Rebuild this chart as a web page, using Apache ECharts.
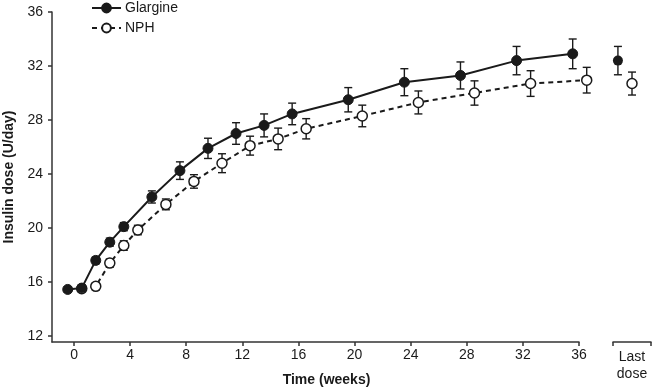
<!DOCTYPE html>
<html>
<head>
<meta charset="utf-8">
<script src="https://cdn.jsdelivr.net/npm/echarts@6/dist/echarts.min.js"></script>
<style>html,body{margin:0;padding:0;background:#fff}#c{width:653px;height:389px}</style>
</head>
<body>
<div id="c"></div>
<script>
// ---- data ----
var weeks = [0, 1, 2, 3, 4, 6, 8, 10, 12, 14, 16, 20, 24, 28, 32, 36];
var glargine = [15.45, 15.55, 17.6, 18.95, 20.1, 22.3, 24.25, 25.9, 27.0, 27.6, 28.45, 29.5, 30.8, 31.3, 32.4, 32.9];
var glargineErr = [0.2, 0.25, 0.25, 0.3, 0.3, 0.45, 0.65, 0.75, 0.8, 0.85, 0.8, 0.9, 1.0, 1.0, 1.05, 1.1];
var nph = [15.5, 15.68, 17.4, 18.7, 19.85, 21.75, 23.45, 24.8, 26.1, 26.6, 27.35, 28.3, 29.3, 30.0, 30.7, 30.95];
var nphErr = [0.2, 0.25, 0.3, 0.35, 0.35, 0.4, 0.5, 0.7, 0.7, 0.8, 0.75, 0.8, 0.85, 0.9, 0.95, 0.95];
var lastGlargine = 32.4, lastGlargineErr = 1.05;
var lastNph = 30.7, lastNphErr = 0.85;
var xTicks = [0, 4, 8, 12, 16, 20, 24, 28, 32, 36];
var yTicks = [12, 16, 20, 24, 28, 32, 36];
var seriesNames = ['Glargine', 'NPH'];

// ---- layout helpers ----
var OFF_G = -0.45, OFF_N = 0.55;
var FONT = '"Liberation Sans", Arial, sans-serif';
var INK = '#1a1a1a';

function pts(vals, off) { return weeks.map(function (w, i) { return [w + off, vals[i]]; }); }
function errs(vals, e, off) { return weeks.map(function (w, i) { return [w + off, vals[i] - e[i], vals[i] + e[i]]; }); }

function errRender(params, api) {
  var x = api.value(0), lo = api.value(1), hi = api.value(2);
  var a = api.coord([x, hi]), b = api.coord([x, lo]);
  var cw = 4;
  var st = { stroke: INK, lineWidth: 1.4 };
  return { type: 'group', children: [
    { type: 'line', shape: { x1: a[0], y1: a[1], x2: b[0], y2: b[1] }, style: st },
    { type: 'line', shape: { x1: a[0] - cw, y1: a[1], x2: a[0] + cw, y2: a[1] }, style: st },
    { type: 'line', shape: { x1: b[0] - cw, y1: b[1], x2: b[0] + cw, y2: b[1] }, style: st }
  ]};
}

var axisLineStyle = { color: '#333', width: 1.5 };
var chart = echarts.init(document.getElementById('c'));
chart.setOption({
  animation: false,
  textStyle: { fontFamily: FONT },
  legend: {
    orient: 'vertical', left: 91, top: 1, padding: 0, itemGap: 6,
    itemWidth: 29, itemHeight: 11,
    data: seriesNames,
    textStyle: { fontFamily: FONT, fontSize: 14, color: INK, padding: [1, 0, 0, -1] }
  },
  grid: [
    { left: 52, right: 74, top: 12, bottom: 47, containLabel: false, outerBoundsMode: 'none' },
    { left: 613, right: 2, top: 12, bottom: 47, containLabel: false, outerBoundsMode: 'none' }
  ],
  xAxis: [
    {
      type: 'value', gridIndex: 0, min: -1.57, max: 36,
      splitLine: { show: false },
      axisLine: { onZero: false, lineStyle: axisLineStyle },
      axisTick: { customValues: xTicks, length: 4, lineStyle: axisLineStyle },
      axisLabel: { customValues: xTicks, margin: 6, fontSize: 14, color: INK, fontFamily: FONT },
      name: 'Time (weeks)', nameLocation: 'middle', nameGap: 31,
      nameTextStyle: { fontSize: 14, fontWeight: 'bold', color: INK, fontFamily: FONT, padding: [0, 0, 0, 22] }
    },
    {
      type: 'value', gridIndex: 1, min: -0.8, max: 1.9,
      splitLine: { show: false },
      axisLine: { onZero: false, lineStyle: axisLineStyle },
      axisTick: { customValues: [-0.8, 1.9], length: 4, lineStyle: axisLineStyle },
      axisLabel: { show: false },
      name: 'Last\ndose', nameLocation: 'middle', nameGap: 7,
      nameTextStyle: { fontSize: 14, color: INK, fontFamily: FONT, lineHeight: 17, verticalAlign: 'top' }
    }
  ],
  yAxis: [
    {
      type: 'value', gridIndex: 0, min: 11.556, max: 36,
      splitLine: { show: false },
      axisLine: { show: true, onZero: false, lineStyle: axisLineStyle },
      axisTick: { show: true, customValues: yTicks, length: 4, lineStyle: axisLineStyle },
      axisLabel: { customValues: yTicks, margin: 9, fontSize: 14, color: INK, fontFamily: FONT },
      name: 'Insulin dose (U/day)', nameLocation: 'middle', nameGap: 36, nameRotate: 90,
      nameTextStyle: { fontSize: 14, fontWeight: 'bold', color: INK, fontFamily: FONT }
    },
    {
      type: 'value', gridIndex: 1, min: 11.556, max: 36, show: false
    }
  ],
  series: [
    { type: 'custom', name: 'gErr', xAxisIndex: 0, yAxisIndex: 0, renderItem: errRender, data: errs(glargine, glargineErr, OFF_G), encode: { x: 0, y: [1, 2] }, z: 1, silent: true, clip: false },
    { type: 'custom', name: 'nErr', xAxisIndex: 0, yAxisIndex: 0, renderItem: errRender, data: errs(nph, nphErr, OFF_N), encode: { x: 0, y: [1, 2] }, z: 1, silent: true, clip: false },
    { type: 'custom', name: 'gErrL', xAxisIndex: 1, yAxisIndex: 1, renderItem: errRender, data: [[OFF_G, lastGlargine - lastGlargineErr, lastGlargine + lastGlargineErr]], encode: { x: 0, y: [1, 2] }, z: 1, silent: true, clip: false },
    { type: 'custom', name: 'nErrL', xAxisIndex: 1, yAxisIndex: 1, renderItem: errRender, data: [[OFF_N, lastNph - lastNphErr, lastNph + lastNphErr]], encode: { x: 0, y: [1, 2] }, z: 1, silent: true, clip: false },
    {
      type: 'line', name: 'NPH', xAxisIndex: 0, yAxisIndex: 0, data: pts(nph, OFF_N), z: 3, clip: false,
      symbol: 'circle', symbolSize: 10, showAllSymbol: true,
      lineStyle: { color: INK, width: 2, type: [5, 4] },
      itemStyle: { color: '#fff', borderColor: INK, borderWidth: 1.5 }
    },
    {
      type: 'line', name: 'Glargine', xAxisIndex: 0, yAxisIndex: 0, data: pts(glargine, OFF_G), z: 4, clip: false,
      symbol: 'circle', symbolSize: 10, showAllSymbol: true,
      lineStyle: { color: INK, width: 2 },
      itemStyle: { color: INK, borderColor: INK, borderWidth: 1 }
    },
    {
      type: 'scatter', name: 'GlargineLast', xAxisIndex: 1, yAxisIndex: 1, data: [[OFF_G, lastGlargine]], z: 4, clip: false,
      symbol: 'circle', symbolSize: 10, itemStyle: { color: INK, opacity: 1 }
    },
    {
      type: 'scatter', name: 'NPHLast', xAxisIndex: 1, yAxisIndex: 1, data: [[OFF_N, lastNph]], z: 4, clip: false,
      symbol: 'circle', symbolSize: 10, itemStyle: { color: '#fff', borderColor: INK, borderWidth: 1.5, opacity: 1 }
    }
  ]
});
</script>
</body>
</html>
